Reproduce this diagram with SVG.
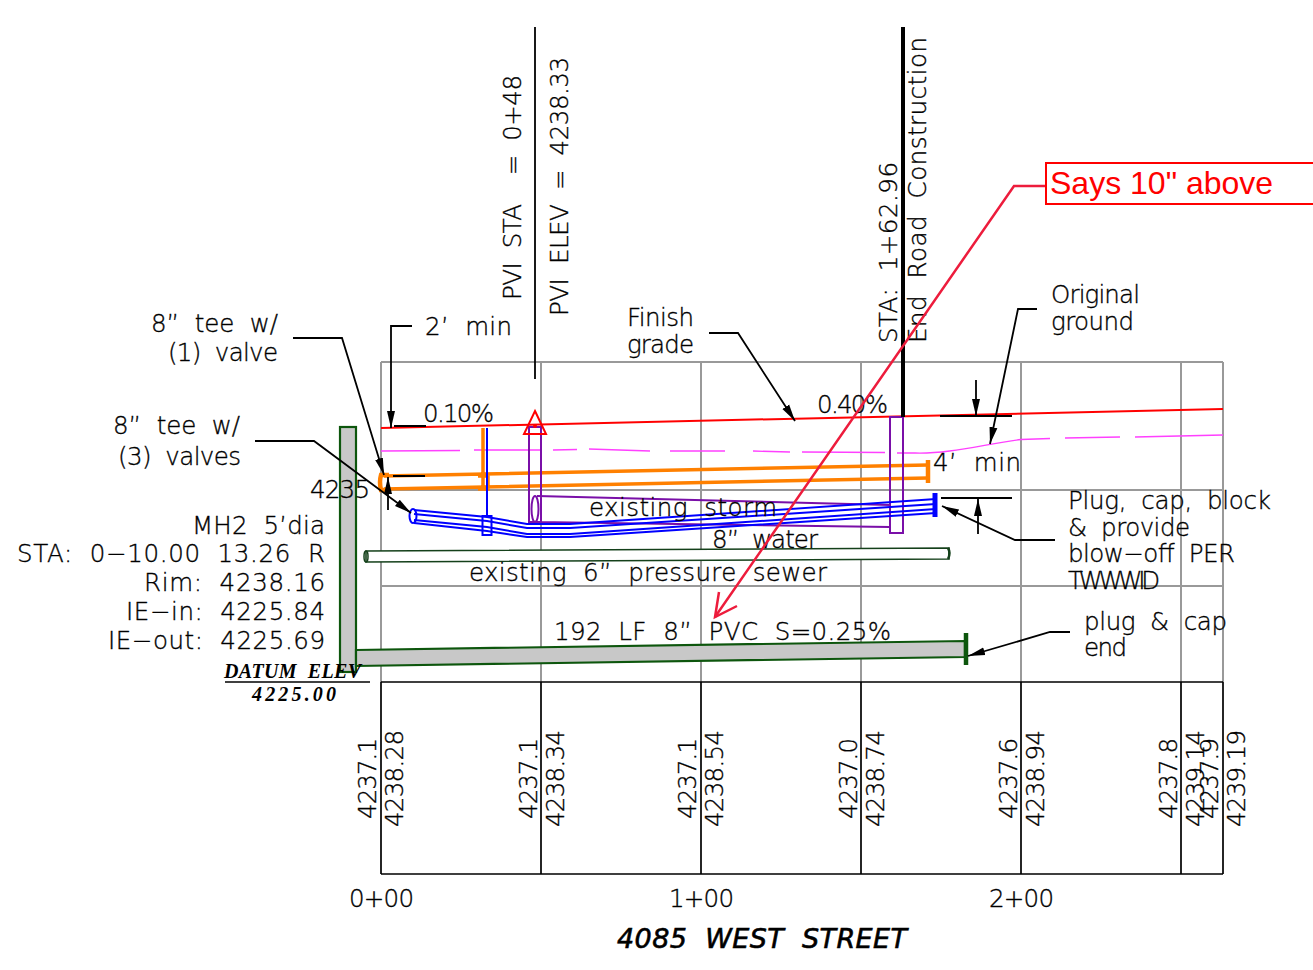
<svg xmlns="http://www.w3.org/2000/svg" width="1313" height="970" viewBox="0 0 1313 970">
<style>
text{font-family:"DejaVu Sans",sans-serif;font-size:24.500px;font-weight:200;fill:#000;stroke:#000;stroke-width:.35;white-space:pre}
.c{font-family:"Liberation Serif",serif;font-style:italic;font-weight:700;font-size:20px;stroke:none}
.t{font-style:italic;font-size:27px;stroke-width:.6}
.s{font-family:"Liberation Sans",sans-serif;font-size:32px;fill:#f00;font-weight:400;stroke:none}
.g{fill:none;stroke:#999;stroke-width:2}
.b{fill:none;stroke:#000;stroke-width:1.700}
.l{fill:none;stroke:#000;stroke-width:1.800}
.bl{fill:none;stroke:#00f;stroke-width:2}
.o{fill:none;stroke:#ff8000;stroke-width:3.500}
.p{fill:none;stroke:#7a0fa8;stroke-width:2}
.gr{fill:#c8c8c8;stroke:#0d560d;stroke-width:2.200}
</style>
<defs>
<marker id="a" markerUnits="userSpaceOnUse" markerWidth="18" markerHeight="10" refX="17" refY="5" orient="auto"><path d="M0 1 L17 5 L0 9 Z" fill="#000"/></marker>
</defs>
<g id="grid">
<path class="g" d="M381 362V682M541 362V682M701 362V682M861 362V682M1021 362V682M1181 362V682M1223 362V682M381 362H1223M381 490H1223M381 586H1223"/>
<path class="b" d="M381 682H1223M381 874H1223M381 682V874M541 682V874M701 682V874M861 682V874M1021 682V874M1181 682V874M1223 682V874"/>
</g>
<g id="manhole">
<rect class="gr" x="340" y="427" width="16" height="245"/>
<path class="gr" d="M356 650L965 641V657L356 666Z"/>
<path d="M966 633V665" stroke="#0d560d" stroke-width="4.500" fill="none"/>
</g>
<g id="existing-pressure-sewer">
<path d="M366 551L949 548V559L366 562Z" fill="#fff" stroke="#14401a" stroke-width="1.600"/>
<ellipse cx="366" cy="556.500" rx="2" ry="5.500" fill="none" stroke="#14401a" stroke-width="1.500"/>
<path d="M948 548Q951 553 948 559" fill="none" stroke="#14401a" stroke-width="2.500"/>
</g>
<g id="finish-grade">
<path d="M381 428L1223 409" fill="none" stroke="#f00" stroke-width="2"/>
<path d="M381 451L460 450.500M474 450L541 450M553 450L577 449.500M589 449L650 451M670 451L725 451M753 451L790 452M802 452L885 452.500M897 453H915C950 454 985 444 1021 439.500L1050 438.500M1065 438L1120 437M1135 437L1223 435" fill="none" stroke="#ff40ff" stroke-width="1.300"/>
</g>
<g id="water-orange">
<path class="o" d="M384 476L928 465M384 489L928 478M483 428V489M478 476H488V489H478"/>
<path d="M389 475H381Q379 482 381 490H389" fill="none" stroke="#ff8000" stroke-width="4.500"/>
<path d="M928 460V483" stroke="#ff8000" stroke-width="4.500"/>
</g>
<g id="storm">
<path class="p" d="M529 427H541V522H529ZM537 496L890 505M537 522L890 527M890 417H903V533H890Z"/>
<ellipse class="p" cx="535" cy="509" rx="3.500" ry="13"/>
</g>
<g id="water-blue">
<path class="bl" d="M487 428V516"/>
<path class="bl" d="M414 510L487 517L527 524H570L936 499M414 514L487 521L527 528H570L936 504M414 520L487 527L527 534H570L936 509M414 523L487 531L527 537H570L936 513"/>
<ellipse class="bl" cx="413" cy="516" rx="3.500" ry="7"/>
<rect class="bl" x="482.500" y="516" width="9" height="19"/>
<path d="M935 493V517" stroke="#00f" stroke-width="5" fill="none"/>
</g>
<g id="pvi">
<path d="M535 27V379" stroke="#000" stroke-width="1.800" fill="none"/>
<path d="M535 411L546 434H524Z" fill="none" stroke="#f00" stroke-width="2"/>
<circle cx="535" cy="426" r="2" fill="#f00"/>
<path d="M903 27V417" stroke="#000" stroke-width="4" fill="none"/>
</g>
<g id="dimensions">
<path class="l" d="M394 426H426M393 476H425" />
<path class="l" d="M412 326H391V428" marker-end="url(#a)"/>
<path class="l" d="M388 510V477" marker-end="url(#a)"/>
<path class="l" d="M293 338H342L384 475" marker-end="url(#a)"/>
<path class="l" d="M255 441H314L411 513" marker-end="url(#a)"/>
<path class="l" d="M709 333H738L795 421" marker-end="url(#a)"/>
<path class="l" d="M976 380V416" marker-end="url(#a)"/>
<path d="M940 416H1012" stroke="#000" stroke-width="2.200"/>
<path class="l" d="M1037 309H1018L990 444" marker-end="url(#a)"/>
<path d="M941 498H1012" stroke="#000" stroke-width="1.800"/>
<path class="l" d="M978 534V499" marker-end="url(#a)"/>
<path class="l" d="M1055 540H1015L942 506" marker-end="url(#a)"/>
<path class="l" d="M1070 632H1050L968 656" marker-end="url(#a)"/>
<path d="M225 682H370" stroke="#000" stroke-width="1.500"/>
</g>
<g id="labels">
<text x="151" y="332" textLength="127" lengthAdjust="spacing">8”  tee  w/</text>
<text x="168" y="361" textLength="110" lengthAdjust="spacing">(1)  valve</text>
<text x="113" y="434" textLength="127" lengthAdjust="spacing">8”  tee  w/</text>
<text x="118" y="465" textLength="123" lengthAdjust="spacing">(3)  valves</text>
<text x="425" y="335" textLength="87" lengthAdjust="spacing">2’  min</text>
<text x="423" y="422" textLength="71" lengthAdjust="spacing">0.10%</text>
<text x="817" y="413" textLength="71" lengthAdjust="spacing">0.40%</text>
<text x="627" y="326" textLength="67" lengthAdjust="spacing">Finish</text>
<text x="627" y="353" textLength="67" lengthAdjust="spacing">grade</text>
<text x="1051" y="303" textLength="89" lengthAdjust="spacing">Original</text>
<text x="1051" y="330" textLength="83" lengthAdjust="spacing">ground</text>
<text x="933" y="471" textLength="88" lengthAdjust="spacing">4’  min</text>
<text x="310" y="498" textLength="60" lengthAdjust="spacing">4235</text>
<text x="589" y="516" textLength="188" lengthAdjust="spacing">existing  storm</text>
<text x="712" y="548" textLength="106" lengthAdjust="spacing">8”  water</text>
<text x="469" y="581" textLength="358" lengthAdjust="spacing">existing  6”  pressure  sewer</text>
<text x="554" y="640" textLength="337" lengthAdjust="spacing">192  LF  8”  PVC  S=0.25%</text>
<text x="1068" y="509" textLength="203" lengthAdjust="spacing">Plug,  cap,  block</text>
<text x="1068" y="536" textLength="122" lengthAdjust="spacing">&amp;  provide</text>
<text x="1068" y="562" textLength="167" lengthAdjust="spacing">blow−off  PER</text>
<text x="1068" y="589" textLength="92" lengthAdjust="spacing">TWWWID</text>
<text x="1084" y="630" textLength="143" lengthAdjust="spacing">plug  &amp;  cap</text>
<text x="1084" y="656" textLength="43" lengthAdjust="spacing">end</text>
<text x="192" y="534" textLength="133" lengthAdjust="spacing">MH2  5’dia</text>
<text x="17" y="562" textLength="308" lengthAdjust="spacing">STA:  0−10.00  13.26  R</text>
<text x="144" y="591" textLength="181" lengthAdjust="spacing">Rim:  4238.16</text>
<text x="126" y="620" textLength="199" lengthAdjust="spacing">IE−in:  4225.84</text>
<text x="108" y="649" textLength="217" lengthAdjust="spacing">IE−out:  4225.69</text>
<text class="c" x="224" y="678" textLength="137" lengthAdjust="spacing">DATUM  ELEV</text>
<text class="c" x="252" y="701" textLength="84" lengthAdjust="spacing">4225.00</text>
<text x="349" y="907" textLength="65" lengthAdjust="spacing">0+00</text>
<text x="669" y="907" textLength="65" lengthAdjust="spacing">1+00</text>
<text x="989" y="907" textLength="65" lengthAdjust="spacing">2+00</text>
<text class="t" x="617" y="948" textLength="290" lengthAdjust="spacing">4085  WEST  STREET</text>
<text transform="translate(521 300) rotate(-90)" textLength="225" lengthAdjust="spacing">PVI  STA    =  0+48</text>
<text transform="translate(568 316) rotate(-90)" textLength="259" lengthAdjust="spacing">PVI  ELEV  =  4238.33</text>
<text transform="translate(897 343) rotate(-90)" textLength="181" lengthAdjust="spacing">STA:  1+62.96</text>
<text transform="translate(926 343) rotate(-90)" textLength="306" lengthAdjust="spacing">End  Road  Construction</text>
<text transform="translate(376 819) rotate(-90)" textLength="81" lengthAdjust="spacing">4237.1</text>
<text transform="translate(403 827) rotate(-90)" textLength="97" lengthAdjust="spacing">4238.28</text>
<text transform="translate(537 819) rotate(-90)" textLength="81" lengthAdjust="spacing">4237.1</text>
<text transform="translate(564 827) rotate(-90)" textLength="97" lengthAdjust="spacing">4238.34</text>
<text transform="translate(696 819) rotate(-90)" textLength="81" lengthAdjust="spacing">4237.1</text>
<text transform="translate(723 827) rotate(-90)" textLength="97" lengthAdjust="spacing">4238.54</text>
<text transform="translate(857 819) rotate(-90)" textLength="81" lengthAdjust="spacing">4237.0</text>
<text transform="translate(884 827) rotate(-90)" textLength="97" lengthAdjust="spacing">4238.74</text>
<text transform="translate(1017 819) rotate(-90)" textLength="81" lengthAdjust="spacing">4237.6</text>
<text transform="translate(1044 827) rotate(-90)" textLength="97" lengthAdjust="spacing">4238.94</text>
<text transform="translate(1177 819) rotate(-90)" textLength="81" lengthAdjust="spacing">4237.8</text>
<text transform="translate(1204 827) rotate(-90)" textLength="97" lengthAdjust="spacing">4239.14</text>
<text transform="translate(1218 819) rotate(-90)" textLength="81" lengthAdjust="spacing">4237.9</text>
<text transform="translate(1245 827) rotate(-90)" textLength="97" lengthAdjust="spacing">4239.19</text>
</g>
<g id="callout">
<path d="M1046 186H1014L715 617" fill="none" stroke="#ed1c3c" stroke-width="2.500"/>
<path d="M737 606L715 617L719 592" fill="none" stroke="#ed1c3c" stroke-width="2.500"/>
<path d="M1313 163H1046V204H1313" fill="#fff" stroke="#f00" stroke-width="2"/>
<text class="s" x="1050" y="194">Says 10" above</text>
</g>
</svg>
